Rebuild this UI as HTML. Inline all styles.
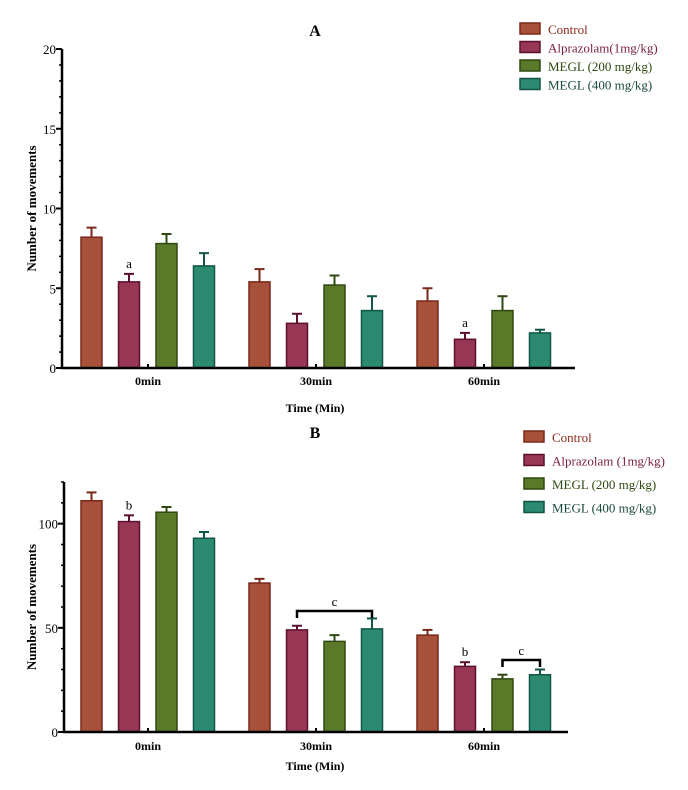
<!DOCTYPE html>
<html><head><meta charset="utf-8"><style>
body{margin:0;background:#fff;}
svg{display:block;font-family:"Liberation Serif",serif;}
</style></head><body>
<svg id="svg" width="688" height="790" xmlns="http://www.w3.org/2000/svg"></svg>
<script>
const categories = ["0min","30min","60min"];
const seriesNames = ["Control","Alprazolam(1mg/kg)","MEGL (200 mg/kg)","MEGL (400 mg/kg)"];
const seriesNamesB = ["Control","Alprazolam (1mg/kg)","MEGL (200 mg/kg)","MEGL (400 mg/kg)"];
const valuesA = [[8.2,5.4,4.2],[5.4,2.8,1.8],[7.8,5.2,3.6],[6.4,3.6,2.2]];
const errorsA = [[0.6,0.8,0.8],[0.5,0.6,0.4],[0.6,0.6,0.9],[0.8,0.9,0.2]];
const valuesB = [[111,71.5,46.5],[101,49,31.5],[105.5,43.5,25.5],[93,49.5,27.5]];
const errorsB = [[4,2,2.5],[3,2,2],[2.5,3,2],[3,5,2.5]];
const ticksA = [0,5,10,15,20];
const ticksB = [0,50,100];
const fills=["#a8513a","#983656","#5a7a2a","#2b8a70"];
const strokes=["#7a2818","#5c1030","#2e4810","#105545"];
const textCols=["#8a2a1a","#7a1f3a","#2e4810","#1a4a3a"];
const svg=document.getElementById('svg');
const NS="http://www.w3.org/2000/svg";
function mk(t,a,txt){const e=document.createElementNS(NS,t);for(const k in a)e.setAttribute(k,a[k]);if(txt!==undefined)e.textContent=txt;svg.appendChild(e);return e;}

function chart(cfg){
  const {x0,x1,y0,ytop,vmax,vals,errs,ticks,minor,title,titleY,names,legY,legStep,xLabY,xTitleY,tag}=cfg;
  const ys=v=>y0-(v/vmax)*(y0-ytop);
  const groupX=g=>81+g*168;
  const barX=(g,s)=>groupX(g)+s*37.5;
  const bw=21;
  let e=mk('text',{x:315,y:titleY,'font-size':16,'font-weight':'bold','text-anchor':'middle'},title);
  
  for(let s=0;s<4;s++)for(let g=0;g<3;g++){
    const v=vals[s][g],er=errs[s][g],bx=barX(g,s);
    e=mk('line',{x1:bx+bw/2,x2:bx+bw/2,y1:ys(v),y2:ys(v+er),stroke:strokes[s],'stroke-width':2});
    
    e=mk('line',{x1:bx+bw/2-5,x2:bx+bw/2+5,y1:ys(v+er),y2:ys(v+er),stroke:strokes[s],'stroke-width':2});
    
    e=mk('rect',{x:bx,y:ys(v),width:bw,height:y0-ys(v),fill:fills[s],stroke:strokes[s],'stroke-width':1.5});
    
  }
  e=mk('line',{x1:x0,x2:x0,y1:ytop,y2:y0+1,stroke:'#000','stroke-width':2.5});
  
  e=mk('line',{x1:x0-1,x2:x1,y1:y0,y2:y0,stroke:'#000','stroke-width':2.5});
  
  for(let v=0;v<=vmax;v+=minor){
    e=mk('line',{x1:x0-3,x2:x0,y1:ys(v),y2:ys(v),stroke:'#000','stroke-width':1.5});
    
  }
  ticks.forEach(v=>{
    e=mk('line',{x1:x0-6,x2:x0,y1:ys(v),y2:ys(v),stroke:'#000','stroke-width':2});
    
    e=mk('text',{x:x0-6,y:ys(v)+5,'font-size':13,'text-anchor':'end'},v);
    
  });
  categories.forEach((c,g)=>{
    const cx=groupX(g)+67;
    e=mk('line',{x1:cx,x2:cx,y1:y0-4,y2:y0,stroke:'#000','stroke-width':2});
    
    e=mk('text',{x:cx,y:xLabY,'font-size':12,'font-weight':'bold','text-anchor':'middle'},c);
    
  });
  e=mk('text',{x:315,y:xTitleY,'font-size':12,'font-weight':'bold','text-anchor':'middle'},'Time (Min)');
  
  const my=(ytop+y0)/2;
  e=mk('text',{x:36,y:my,'font-size':13,'font-weight':'bold','text-anchor':'middle',transform:`rotate(-90 36 ${my})`},'Number of movements');
  
  names.forEach((n,s)=>{
    const ly=legY+s*legStep;
    e=mk('rect',{x:cfg.legX,y:ly-6,width:20,height:11,fill:fills[s],stroke:strokes[s],'stroke-width':1.5});
    
    e=mk('text',{x:cfg.legX+28,y:ly+5,'font-size':13,fill:textCols[s]},n);
    
  });
  return {ys,barX,bw};
}
const A=chart({x0:62,x1:575,y0:368,ytop:49,vmax:20,vals:valuesA,errs:errorsA,ticks:ticksA,minor:1,title:'A',titleY:36,names:seriesNames,legX:520,legY:29,legStep:18.5,xLabY:385,xTitleY:412,tag:'a'});
function ann(x,y,t,name){const e=mk('text',{x:x,y:y,'font-size':13,'text-anchor':'middle'},t);}
ann(A.barX(0,1)+10.5,A.ys(valuesA[1][0]+errorsA[1][0])-6,'a','a-annotation');
ann(A.barX(2,1)+10.5,A.ys(valuesA[1][2]+errorsA[1][2])-6,'a','a-annotation');
const B=chart({x0:64,x1:568,y0:732,ytop:482,vmax:120,vals:valuesB,errs:errorsB,ticks:ticksB,minor:10,title:'B',titleY:438,names:seriesNamesB,legX:524,legY:437,legStep:23.5,xLabY:750,xTitleY:770,tag:'b'});
ann(B.barX(0,1)+10.5,B.ys(valuesB[1][0]+errorsB[1][0])-6,'b','b-annotation');
ann(B.barX(2,1)+10.5,B.ys(valuesB[1][2]+errorsB[1][2])-6,'b','b-annotation');
function bracket(g,s1,s2,y){
  const xa=B.barX(g,s1)+10.5,xb=B.barX(g,s2)+10.5;
  const e=mk('path',{d:`M${xa} ${y+7}V${y}H${xb}V${y+7}`,fill:'none',stroke:'#000','stroke-width':2.5});
  
  ann((xa+xb)/2,y-5,'c','b-annotation');
}
bracket(1,1,3,611);
bracket(2,2,3,660);
</script>
</body></html>
